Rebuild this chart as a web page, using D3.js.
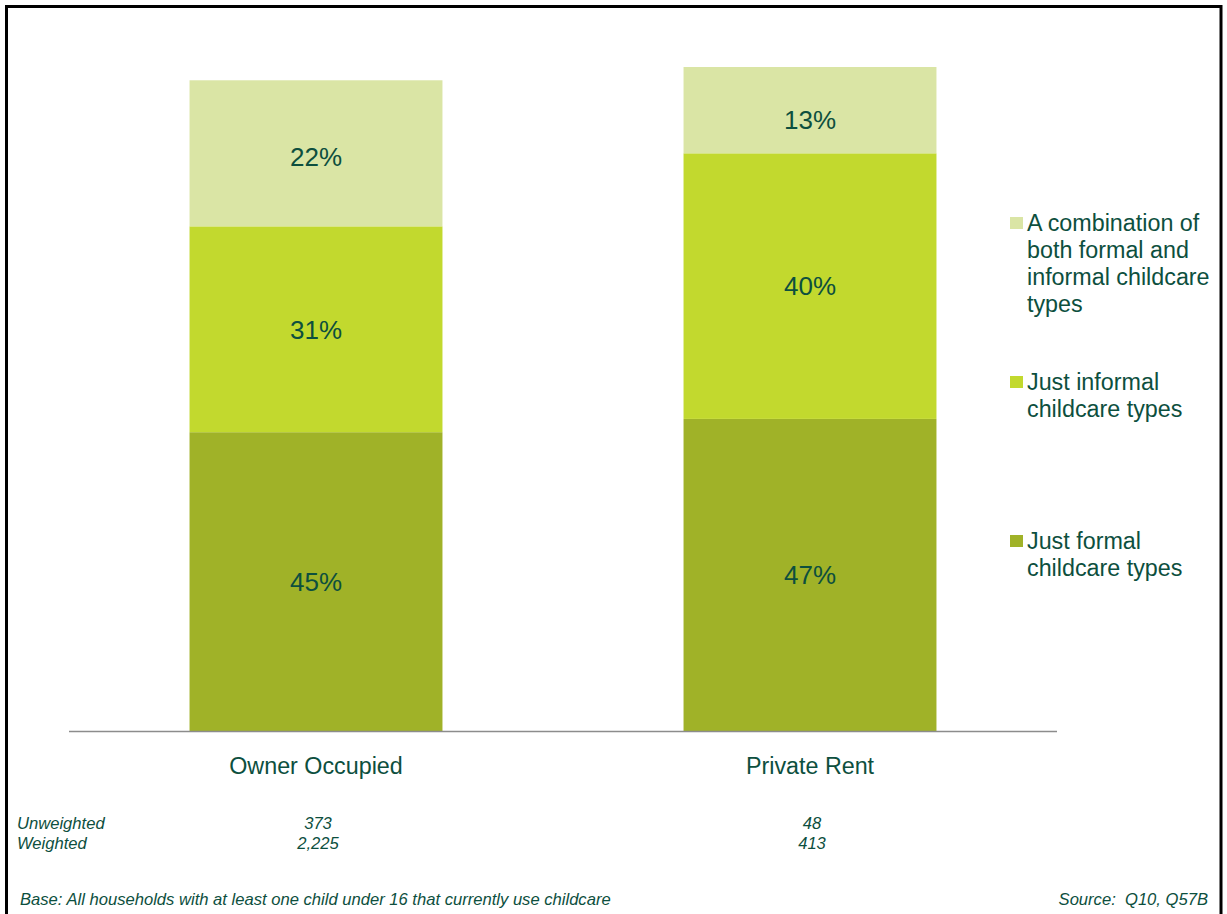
<!DOCTYPE html>
<html>
<head>
<meta charset="utf-8">
<script src="https://cdn.jsdelivr.net/npm/d3@7"></script>
<style>
  html, body { margin: 0; padding: 0; background: #ffffff; }
  svg { display: block; font-family: Arial, "Liberation Sans", sans-serif; }
</style>
</head>
<body>
<svg id="chart" width="1227" height="914"></svg>
<script>
// Childcare types used, by housing tenure (percent of households)
const categories = ["Owner Occupied", "Private Rent"];
const seriesNames = [
  "Just formal childcare types",
  "Just informal childcare types",
  "A combination of both formal and informal childcare types"
];
const justFormal = [45, 47];
const justInformal = [31, 40];
const combination = [22, 13];
const unweighted = ["373", "48"];
const weighted = ["2,225", "413"];

const legendLines = [
  ["Just formal", "childcare types"],
  ["Just informal", "childcare types"],
  ["A combination of", "both formal and", "informal childcare", "types"]
];
const colors = ["#a0b228", "#c2d92e", "#dae5a5"];
const textColor = "#0d4f3e";

const svg = d3.select("#chart");

// Frame around the panel
svg.append("path")
  .attr("d", "M6.5,914 V6.5 H1221 V914")
  .attr("fill", "none")
  .attr("stroke", "#000")
  .attr("stroke-width", 3);

const rows = categories.map((c, i) => ({
  category: c,
  [seriesNames[0]]: justFormal[i],
  [seriesNames[1]]: justInformal[i],
  [seriesNames[2]]: combination[i]
}));

const stacked = d3.stack().keys(seriesNames)(rows);

const x = d3.scaleBand()
  .domain(categories)
  .range([69, 1057])
  .paddingInner(0.488)
  .paddingOuter(0.244);

const y = d3.scaleLinear().domain([0, 100]).range([731, 67]);
// labels are centred within the part of a segment below this level
const labelTop = y(97.1);

const color = d3.scaleOrdinal().domain(seriesNames).range(colors);

const layers = svg.append("g").selectAll("g")
  .data(stacked)
  .join("g")
  .attr("fill", d => color(d.key));

layers.selectAll("rect")
  .data(d => d)
  .join("rect")
  .attr("x", d => x(d.data.category))
  .attr("width", x.bandwidth())
  .attr("y", d => y(d[1]))
  .attr("height", d => y(d[0]) - y(d[1]));

// Segment value labels
layers.selectAll("text")
  .data(d => d.map(v => ({ v, key: d.key })))
  .join("text")
  .attr("x", d => x(d.v.data.category) + x.bandwidth() / 2)
  .attr("y", d => (y(d.v[0]) + Math.max(y(d.v[1]), labelTop)) / 2)
  .attr("dy", "0.36em")
  .attr("text-anchor", "middle")
  .attr("fill", textColor)
  .style("font-size", "26px")
  .text(d => (d.v[1] - d.v[0]) + "%");

// Category axis
const xAxis = svg.append("g")
  .attr("transform", "translate(0,731)")
  .call(d3.axisBottom(x).tickSize(0).tickPadding(0).tickSizeOuter(0));
xAxis.select(".domain").attr("stroke", "#8c8c8c").attr("stroke-width", 1.5)
  .attr("d", "M69,0.5H1057");
xAxis.selectAll(".tick text")
  .attr("y", 35)
  .attr("dy", "0.36em")
  .attr("fill", textColor)
  .style("font-size", "23.3px")
  .style("font-family", "Arial, 'Liberation Sans', sans-serif");

// Legend (top entry = top stack layer)
const legendTops = [541, 382, 223];
const legend = svg.append("g");
seriesNames.forEach((name, i) => {
  const g = legend.append("g").attr("transform", `translate(1010,${legendTops[i]})`);
  g.append("rect")
    .attr("x", 0).attr("y", -6)
    .attr("width", 13).attr("height", 12)
    .attr("fill", colors[i]);
  g.append("text")
    .attr("x", 17)
    .attr("fill", textColor)
    .style("font-size", "23.3px")
    .selectAll("tspan")
    .data(legendLines[i])
    .join("tspan")
    .attr("x", 17)
    .attr("y", (d, j) => j * 27)
    .attr("dy", "0.36em")
    .text(d => d);
});

// Base sizes
const baseStyle = sel => sel
  .attr("fill", textColor)
  .style("font-size", "16.6px")
  .style("font-style", "italic");

svg.append("text").attr("x", 17).attr("y", 823).attr("dy", "0.36em")
  .call(baseStyle).text("Unweighted");
svg.append("text").attr("x", 17).attr("y", 843).attr("dy", "0.36em")
  .call(baseStyle).text("Weighted");

svg.append("g").selectAll("text")
  .data(categories)
  .join("text")
  .attr("x", d => x(d) + x.bandwidth() / 2 + 2)
  .attr("y", 823).attr("dy", "0.36em")
  .attr("text-anchor", "middle")
  .call(baseStyle)
  .text((d, i) => unweighted[i]);

svg.append("g").selectAll("text")
  .data(categories)
  .join("text")
  .attr("x", d => x(d) + x.bandwidth() / 2 + 2)
  .attr("y", 843).attr("dy", "0.36em")
  .attr("text-anchor", "middle")
  .call(baseStyle)
  .text((d, i) => weighted[i]);

// Footnotes
svg.append("text").attr("x", 20).attr("y", 899).attr("dy", "0.36em")
  .call(baseStyle)
  .text("Base: All households with at least one child under 16 that currently use childcare");
svg.append("text").attr("x", 1208).attr("y", 899).attr("dy", "0.36em")
  .attr("text-anchor", "end")
  .attr("xml:space", "preserve")
  .style("white-space", "pre")
  .call(baseStyle)
  .text("Source:  Q10, Q57B");
</script>
</body>
</html>
